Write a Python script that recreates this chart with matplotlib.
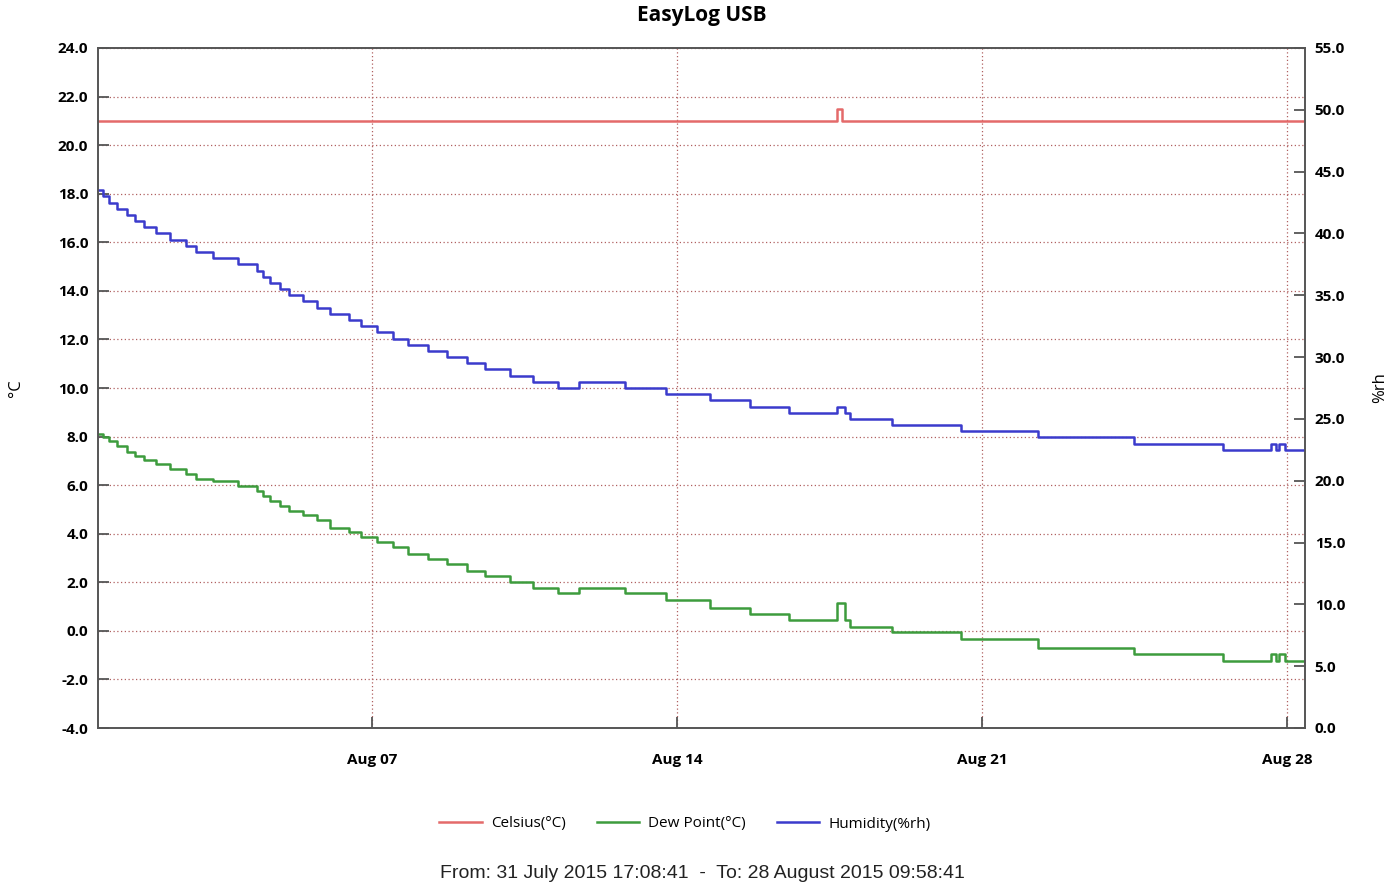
import matplotlib
matplotlib.use("Agg")
import matplotlib.pyplot as plt
import matplotlib.dates as mdates
import numpy as np
import pandas as pd

# Logger run start / end
start_time = pd.Timestamp("2015-07-31 17:08:41")
end_time = pd.Timestamp("2015-08-28 09:58:41")

# Step changes, hours elapsed since the start of the run
step_hours = [0, 2.9, 6.0, 10.6, 15.8, 20.4, 25.5, 31.8, 39.6, 48.4, 53.9, 63.1,
              76.9, 87.4, 90.7, 94.7, 100.2, 105.3, 113.0, 120.4, 127.7, 138.0,
              145.1, 153.7, 162.6, 170.8, 181.8, 192.5, 203.3, 213.0, 227.2,
              239.6, 253.4, 264.8, 290.1, 313.1, 336.9, 358.9, 380.5, 407.2,
              411.2, 414.0, 437.2, 475.4, 517.6, 570.8, 619.4, 646.1, 648.8,
              650.6, 654.0]

humidity = [43.5, 43.0, 42.5, 42.0, 41.5, 41.0, 40.5, 40.0, 39.5, 39.0, 38.5,
            38.0, 37.5, 37.0, 36.5, 36.0, 35.5, 35.0, 34.5, 34.0, 33.5, 33.0,
            32.5, 32.0, 31.5, 31.0, 30.5, 30.0, 29.5, 29.0, 28.5, 28.0, 27.5,
            28.0, 27.5, 27.0, 26.5, 26.0, 25.5, 26.0, 25.5, 25.0, 24.5, 24.0,
            23.5, 23.0, 22.5, 23.0, 22.5, 23.0, 22.5]

dew_point = [8.1, 8.0, 7.8, 7.6, 7.35, 7.2, 7.05, 6.85, 6.65, 6.45, 6.25, 6.15,
             5.95, 5.75, 5.55, 5.35, 5.15, 4.95, 4.75, 4.55, 4.25, 4.05, 3.85,
             3.65, 3.45, 3.15, 2.95, 2.75, 2.45, 2.25, 2.0, 1.75, 1.55, 1.75,
             1.55, 1.25, 0.95, 0.7, 0.45, 1.15, 0.45, 0.15, -0.05, -0.35, -0.7,
             -0.95, -1.25, -0.95, -1.25, -0.95, -1.25]

temp_hours = [0, 407.2, 410.0]
celsius = [21.0, 21.5, 21.0]

left_ticks = np.arange(-4, 24.1, 2)
right_ticks = np.arange(0, 55.1, 5)
date_ticks = ["2015-08-07", "2015-08-14", "2015-08-21", "2015-08-28"]

RED = "#e46a6a"
GREEN = "#3d9c3d"
BLUE = "#3b3bcc"
GRID = "#b06060"
SPINE = "#555555"


def step_series(hours, values):
    # extend the last reading to the end of the run
    t = [start_time + pd.Timedelta(hours=h) for h in hours] + [end_time]
    v = list(values) + [values[-1]]
    return t, v


plt.rcParams["font.family"] = ["Open Sans", "DejaVu Sans"]

fig = plt.figure(figsize=(13.92, 8.85), dpi=100)
ax = fig.add_axes([98 / 1392, 1 - 728 / 885, 1207 / 1392, 680 / 885])
ax2 = ax.twinx()

t, v = step_series(temp_hours, celsius)
l1, = ax.step(t, v, where="post", color=RED, lw=1.8, label="Celsius(°C)")
t, v = step_series(step_hours, dew_point)
l2, = ax.step(t, v, where="post", color=GREEN, lw=1.8, label="Dew Point(°C)")
t, v = step_series(step_hours, humidity)
l3, = ax2.step(t, v, where="post", color=BLUE, lw=1.8, label="Humidity(%rh)")

ax.set_xlim(start_time, end_time)
ax.set_ylim(-4, 24)
ax2.set_ylim(0, 55)

ax.set_yticks(left_ticks)
ax.set_yticklabels([f"{x:.1f}" for x in left_ticks])
ax2.set_yticks(right_ticks)
ax2.set_yticklabels([f"{x:.1f}" for x in right_ticks])
ax.set_xticks(pd.to_datetime(date_ticks))
ax.xaxis.set_major_formatter(mdates.DateFormatter("%b %d"))

ax.grid(True, color=GRID, linestyle=(0, (1, 2)), linewidth=0.9)

for a in (ax, ax2):
    for s in a.spines.values():
        s.set_color(SPINE)
        s.set_linewidth(1.2)
ax.tick_params(axis="y", direction="in", length=8, width=1.3, color=SPINE,
               labelsize=11, pad=7)
ax.tick_params(axis="x", direction="in", length=8, width=1.3, color=SPINE,
               labelsize=11, pad=18)
ax2.tick_params(axis="y", direction="in", length=8, width=1.3, color=SPINE,
                labelsize=11, pad=7)
for lab in ax.get_xticklabels() + ax.get_yticklabels() + ax2.get_yticklabels():
    lab.set_fontweight("bold")

ax.set_ylabel("°C", fontsize=12)
ax.yaxis.set_label_coords(-0.061, 0.5)
ax2.set_ylabel("%rh", fontsize=12)
ax2.yaxis.set_label_coords(1.056, 0.5)

fig.text(702 / 1392, 1 - 16 / 885, "EasyLog USB", ha="center", va="center",
         fontsize=15, fontweight="bold")

fig.legend(handles=[l1, l2, l3], loc="center", ncol=3, frameon=False,
           bbox_to_anchor=(685 / 1392, 1 - 824 / 885), fontsize=11,
           handlelength=2.8, handletextpad=0.6, columnspacing=2.0)

fig.text(702 / 1392, 1 - 873 / 885,
         "From: 31 July 2015 17:08:41  -  To: 28 August 2015 09:58:41",
         ha="center", va="center", fontsize=14, family="Liberation Sans",
         color="#222222")

fig.savefig("out.png", dpi=100)
